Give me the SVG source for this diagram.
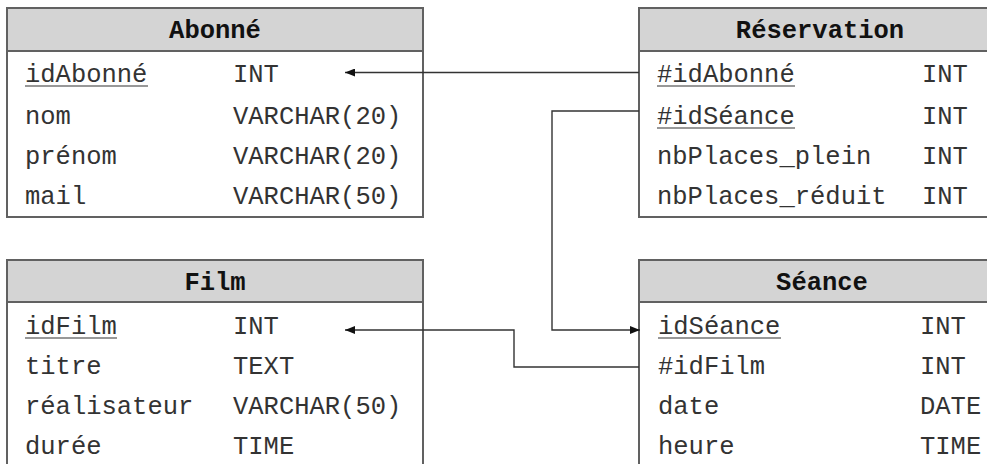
<svg xmlns="http://www.w3.org/2000/svg" width="987" height="464" viewBox="0 0 987 464">
  <defs>
    <style>
      .box { fill: #ffffff; stroke: #616161; stroke-width: 2; }
      .head { fill: #d4d4d4; stroke: #616161; stroke-width: 2; }
      .title { font-family: "Courier New", Courier, "Nimbus Mono PS", "FreeMono", "Liberation Mono", monospace; font-size: 25.5px; font-weight: bold; fill: #111111; text-anchor: middle; }
      .cell { font-family: "Courier New", Courier, "Nimbus Mono PS", "FreeMono", "Liberation Mono", monospace; font-size: 25.5px; fill: #333333; }
      .ul { stroke: #333333; stroke-width: 1.2; }
      .link { fill: none; stroke: #333333; stroke-width: 1.4; }
    </style>
    <marker id="arrow" viewBox="0 0 10 8" refX="10" refY="4" markerWidth="10" markerHeight="8" markerUnits="userSpaceOnUse" orient="auto">
      <path d="M0,0 L10,4 L0,8 Z" fill="#111111"/>
    </marker>
  </defs>

  <!-- Table: Abonné -->
  <g id="abonne">
    <rect class="box" x="7" y="8" width="416" height="209"/>
    <rect class="head" x="7" y="8" width="416" height="43"/>
    <text class="title" x="215" y="38">Abonné</text>
    <text class="cell" x="25" y="82">idAbonné</text>
    <line class="ul" x1="25" y1="86" x2="148" y2="86"/>
    <text class="cell" x="233" y="82">INT</text>
    <text class="cell" x="25" y="124">nom</text>
    <text class="cell" x="233" y="124">VARCHAR(20)</text>
    <text class="cell" x="25" y="164">prénom</text>
    <text class="cell" x="233" y="164">VARCHAR(20)</text>
    <text class="cell" x="25" y="204">mail</text>
    <text class="cell" x="233" y="204">VARCHAR(50)</text>
  </g>

  <!-- Table: Réservation -->
  <g id="reservation">
    <rect class="box" x="639" y="8" width="364" height="209"/>
    <rect class="head" x="639" y="8" width="364" height="43"/>
    <text class="title" x="820" y="38">Réservation</text>
    <text class="cell" x="657" y="82">#idAbonné</text>
    <line class="ul" x1="657" y1="86" x2="795" y2="86"/>
    <text class="cell" x="922" y="82">INT</text>
    <text class="cell" x="657" y="124">#idSéance</text>
    <line class="ul" x1="657" y1="128" x2="795" y2="128"/>
    <text class="cell" x="922" y="124">INT</text>
    <text class="cell" x="657" y="164">nbPlaces_plein</text>
    <text class="cell" x="922" y="164">INT</text>
    <text class="cell" x="657" y="204">nbPlaces_réduit</text>
    <text class="cell" x="922" y="204">INT</text>
  </g>

  <!-- Table: Film -->
  <g id="film">
    <rect class="box" x="7" y="260" width="416" height="214"/>
    <rect class="head" x="7" y="260" width="416" height="42"/>
    <text class="title" x="215" y="290">Film</text>
    <text class="cell" x="25" y="334">idFilm</text>
    <line class="ul" x1="25" y1="338" x2="117" y2="338"/>
    <text class="cell" x="233" y="334">INT</text>
    <text class="cell" x="25" y="374">titre</text>
    <text class="cell" x="233" y="374">TEXT</text>
    <text class="cell" x="25" y="414">réalisateur</text>
    <text class="cell" x="233" y="414">VARCHAR(50)</text>
    <text class="cell" x="25" y="454">durée</text>
    <text class="cell" x="233" y="454">TIME</text>
  </g>

  <!-- Table: Séance -->
  <g id="seance">
    <rect class="box" x="639" y="260" width="366" height="214"/>
    <rect class="head" x="639" y="260" width="366" height="42"/>
    <text class="title" x="822" y="290">Séance</text>
    <text class="cell" x="658" y="334">idSéance</text>
    <line class="ul" x1="658" y1="338" x2="781" y2="338"/>
    <text class="cell" x="920" y="334">INT</text>
    <text class="cell" x="658" y="374">#idFilm</text>
    <text class="cell" x="920" y="374">INT</text>
    <text class="cell" x="658" y="414">date</text>
    <text class="cell" x="920" y="414">DATE</text>
    <text class="cell" x="658" y="454">heure</text>
    <text class="cell" x="920" y="454">TIME</text>
  </g>

  <!-- Foreign key links -->
  <g id="links">
    <path class="link" d="M639,72.5 L345,72.5" marker-end="url(#arrow)"/>
    <path class="link" d="M639,111 L552,111 L552,330 L640,330" marker-end="url(#arrow)"/>
    <path class="link" d="M639,367 L514,367 L514,330 L345,330" marker-end="url(#arrow)"/>
  </g>
</svg>
